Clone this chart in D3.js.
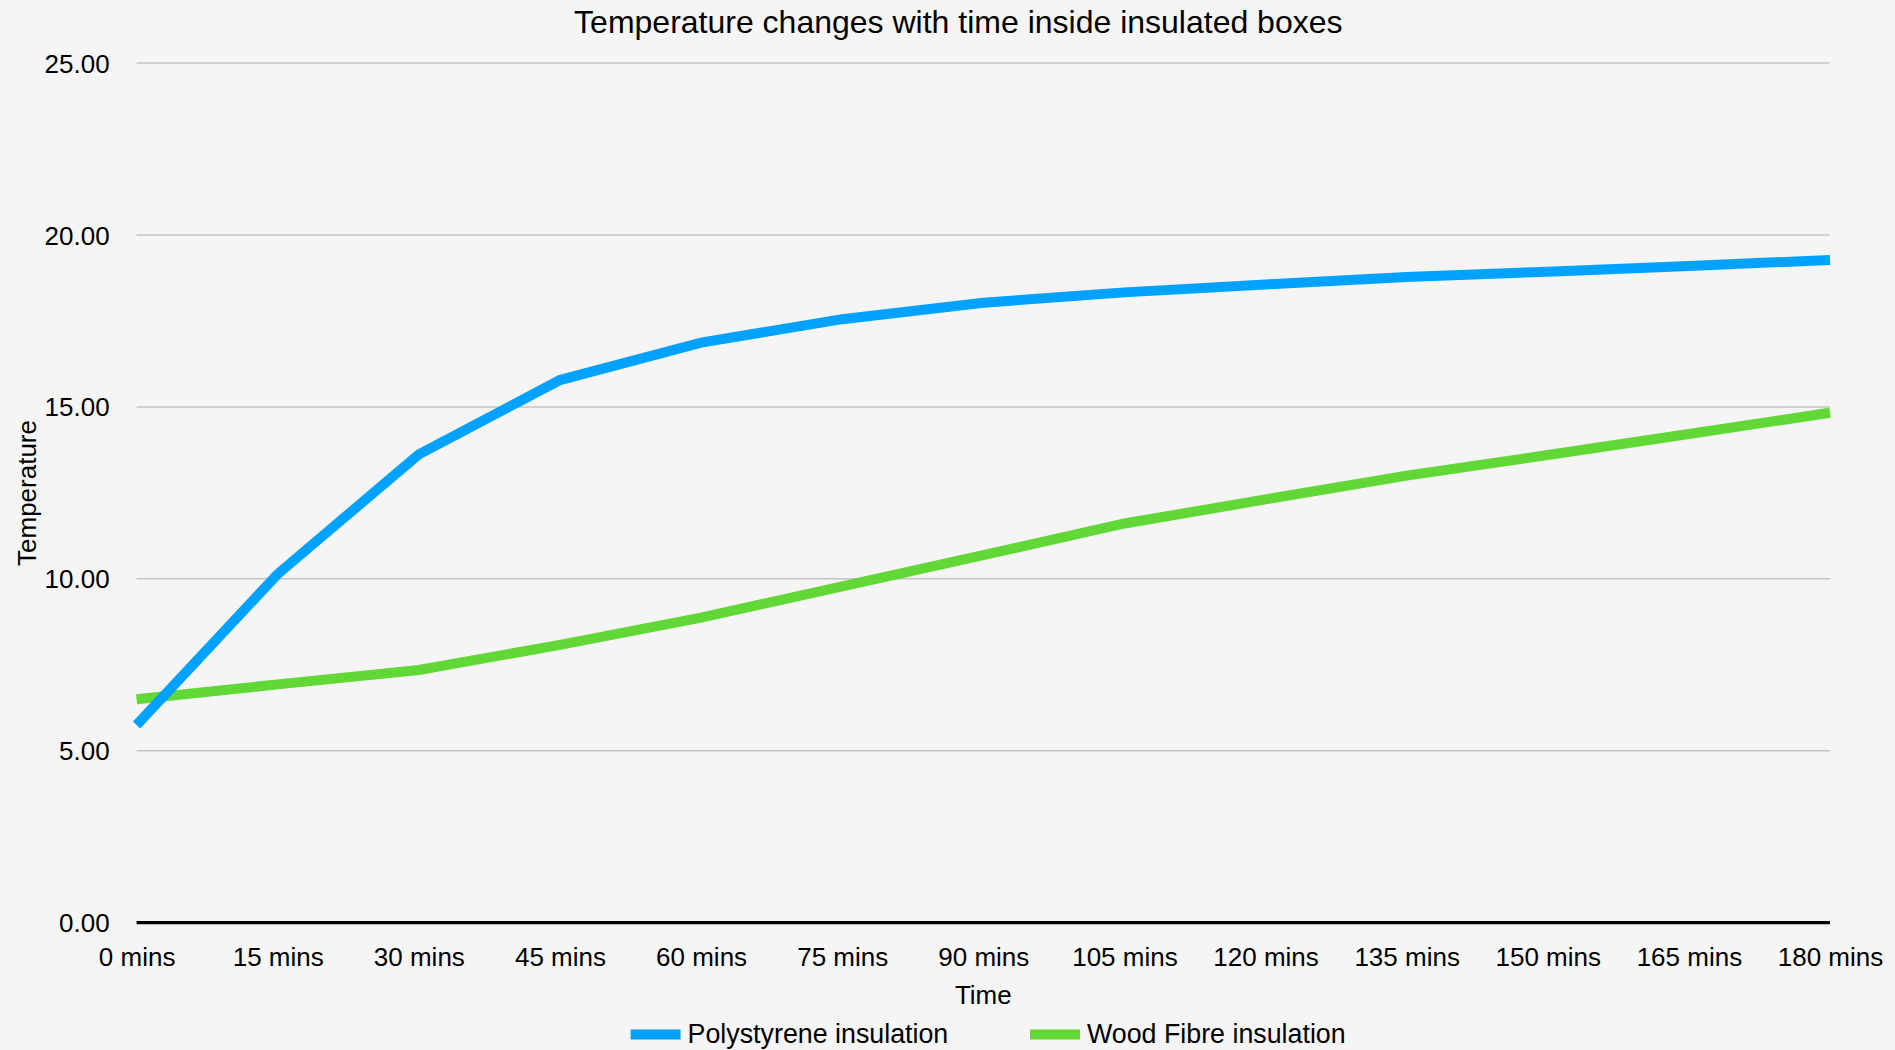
<!DOCTYPE html>
<html>
<head>
<meta charset="utf-8">
<script src="https://cdn.jsdelivr.net/npm/d3@7/dist/d3.min.js"></script>
<style>
  html, body { margin: 0; padding: 0; background: #f5f5f5; }
  svg { display: block; }
  text { font-family: "Liberation Sans", Arial, Helvetica, sans-serif; fill: #000; }
</style>
</head>
<body>
<svg id="chart" width="1895" height="1050"></svg>
<script>
// ---- Data ----
const categories = ["0 mins","15 mins","30 mins","45 mins","60 mins","75 mins","90 mins","105 mins","120 mins","135 mins","150 mins","165 mins","180 mins"];
const polystyrene = [5.75, 10.14, 13.62, 15.78, 16.87, 17.55, 18.03, 18.33, 18.56, 18.78, 18.93, 19.10, 19.27];
const woodFibre   = [6.50, 6.93, 7.35, 8.08, 8.87, 9.78, 10.69, 11.61, 12.31, 13.00, 13.60, 14.21, 14.83];
const yTicks = [0, 5, 10, 15, 20, 25];
const seriesNames = ["Polystyrene insulation", "Wood Fibre insulation"];
const seriesColors = ["#00a2ff", "#61d836"];
const titleText = "Temperature changes with time inside insulated boxes";
const xTitle = "Time";
const yTitle = "Temperature";

// ---- Layout ----
const svg = d3.select("#chart");
const W = 1895, H = 1050;
svg.append("rect").attr("width", W).attr("height", H).attr("fill", "#f5f5f5");

const plotLeft = 136.6, plotRight = 1830, plotTop = 63, plotBottom = 922.7;

const x = d3.scalePoint().domain(categories).range([plotLeft, plotRight]);
const y = d3.scaleLinear().domain([0, 25]).range([plotBottom, plotTop]);

// gridlines
svg.append("g").selectAll("line")
  .data(yTicks.filter(d => d !== 0))
  .join("line")
  .attr("x1", plotLeft).attr("x2", plotRight)
  .attr("y1", d => y(d)).attr("y2", d => y(d))
  .attr("stroke", "#c4c4c4").attr("stroke-width", 1.5);

// y axis labels
const yAxis = d3.axisLeft(y).tickValues(yTicks).tickFormat(d3.format(".2f")).tickSize(0).tickPadding(0);
const gy = svg.append("g").attr("transform", `translate(${plotLeft - 27},0)`).call(yAxis);
gy.select(".domain").remove();
gy.selectAll("text").attr("font-size", 26).attr("font-family", "Liberation Sans, Arial, sans-serif").attr("fill", "#000").attr("dy", "0.35em");

// x axis labels
const xAxis = d3.axisBottom(x).tickSize(0).tickPadding(0);
const gx = svg.append("g").attr("transform", `translate(0,${plotBottom})`).call(xAxis);
gx.select(".domain").remove();
gx.selectAll("text").attr("font-size", 26).attr("font-family", "Liberation Sans, Arial, sans-serif").attr("fill", "#000").attr("dy", null).attr("y", 43);

// lines
const series = [polystyrene, woodFibre];
const line = d3.line().x((d, i) => x(categories[i])).y(d => y(d));
[1, 0].forEach(k => {
  svg.append("path")
    .attr("d", line(series[k]))
    .attr("fill", "none")
    .attr("stroke", seriesColors[k])
    .attr("stroke-width", 10)
    .attr("stroke-linejoin", "miter")
    .attr("stroke-linecap", "butt");
});

// zero axis line
svg.append("line")
  .attr("x1", plotLeft).attr("x2", plotRight)
  .attr("y1", y(0)).attr("y2", y(0))
  .attr("stroke", "#000").attr("stroke-width", 3.2);

// title
svg.append("text")
  .attr("x", (plotLeft + plotRight) / 2 - 25).attr("y", 33)
  .attr("text-anchor", "middle").attr("font-size", 32)
  .text(titleText);

// axis titles
svg.append("text")
  .attr("x", (plotLeft + plotRight) / 2).attr("y", 1004)
  .attr("text-anchor", "middle").attr("font-size", 26)
  .text(xTitle);

svg.append("text")
  .attr("transform", `translate(36,493) rotate(-90)`)
  .attr("text-anchor", "middle").attr("font-size", 26)
  .text(yTitle);

// legend
const legendX = [630.6, 1030];
seriesNames.forEach((name, i) => {
  svg.append("rect")
    .attr("x", legendX[i]).attr("y", 1029.5)
    .attr("width", 50).attr("height", 10)
    .attr("fill", seriesColors[i]);
  svg.append("text")
    .attr("x", legendX[i] + 57).attr("y", 1043)
    .attr("font-size", 26.8)
    .text(name);
});
</script>
</body>
</html>
